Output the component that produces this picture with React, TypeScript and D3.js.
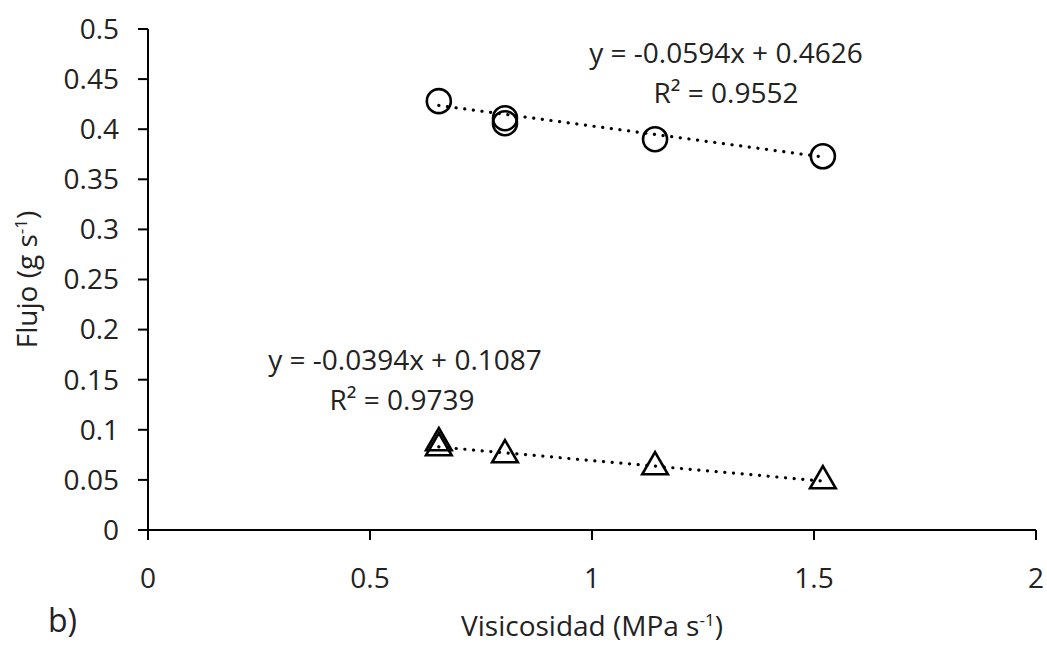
import React from "react";
import * as d3 from "d3";

const circleX = [0.655, 0.804, 0.804, 1.142, 1.52];
const circleY = [0.428, 0.411, 0.406, 0.390, 0.373];
const triX = [0.655, 0.655, 0.804, 1.142, 1.52];
const triY = [0.087, 0.082, 0.075, 0.063, 0.049];
const trend1 = { slope: -0.0594, intercept: 0.4626, eq: "y = -0.0594x + 0.4626", r2: "R² = 0.9552" };
const trend2 = { slope: -0.0394, intercept: 0.1087, eq: "y = -0.0394x + 0.1087", r2: "R² = 0.9739" };
const xTicks = [0, 0.5, 1, 1.5, 2];
const yTicks = [0, 0.05, 0.1, 0.15, 0.2, 0.25, 0.3, 0.35, 0.4, 0.45, 0.5];

const W = 1047, H = 646;
const FONT = "'Open Sans', sans-serif";

export default function App() {
  const x = d3.scaleLinear().domain([0, 2]).range([148, 1036]);
  const y = d3.scaleLinear().domain([0, 0.5]).range([530, 29]);
  const fs = 28;
  const tri = d3.symbol().type(d3.symbolTriangle).size(285);

  const trendLine = (t: typeof trend1, xs: number[]) => {
    const x0 = d3.min(xs)!, x1 = d3.max(xs)!;
    const line = d3.line<number>().x((v) => x(v)).y((v) => y(t.slope * v + t.intercept));
    return (
      <path d={line([x0, x1]) || ""} fill="none" stroke="#000" strokeWidth={3.2}
        strokeDasharray="0.1 8.6" strokeLinecap="round" />
    );
  };

  return (
    <svg width={W} height={H} style={{ position: "absolute", left: 0, top: 0, background: "#fff" }}
      fontFamily={FONT}>
      <rect width={W} height={H} fill="#fff" />
      <line x1={x(0)} x2={x(0)} y1={y(0.5)} y2={y(0)} stroke="#000" strokeWidth={2} />
      <line x1={x(0)} x2={x(2)} y1={y(0)} y2={y(0)} stroke="#000" strokeWidth={2} />
      {yTicks.map((t) => (
        <g key={"y" + t}>
          <line x1={x(0) - 10} x2={x(0)} y1={y(t)} y2={y(t)} stroke="#000" strokeWidth={2} />
          <text x={x(0) - 29} y={y(t)} dy="0.35em" textAnchor="end" fontSize={fs} fill="#222">{String(t)}</text>
        </g>
      ))}
      {xTicks.map((t) => (
        <g key={"x" + t}>
          <line x1={x(t)} x2={x(t)} y1={y(0)} y2={y(0) + 10} stroke="#000" strokeWidth={2} />
          <text x={x(t)} y={578} dy="0.35em" textAnchor="middle" fontSize={fs} fill="#222">{String(t)}</text>
        </g>
      ))}
      {trendLine(trend1, circleX)}
      {trendLine(trend2, triX)}
      {circleX.map((v, i) => (
        <circle key={"c" + i} cx={x(v)} cy={y(circleY[i])} r={12} fill="none" stroke="#000" strokeWidth={2.6} />
      ))}
      {triX.map((v, i) => (
        <path key={"t" + i} d={tri() || ""} transform={`translate(${x(v)},${y(triY[i])})`} fill="none" stroke="#000" strokeWidth={2.6} />
      ))}
      <text x={726} y={53} dy="0.35em" textAnchor="middle" fontSize={fs} fill="#222">{trend1.eq}</text>
      <text x={726} y={93} dy="0.35em" textAnchor="middle" fontSize={fs} fill="#222">{trend1.r2}</text>
      <text x={405} y={360} dy="0.35em" textAnchor="middle" fontSize={fs} fill="#222">{trend2.eq}</text>
      <text x={402} y={400} dy="0.35em" textAnchor="middle" fontSize={fs} fill="#222">{trend2.r2}</text>
      <text transform={`translate(27,${y(0.25)}) rotate(-90)`} dy="0.35em" textAnchor="middle" fontSize={fs} fill="#222">
        Flujo (g s<tspan dy="-10" fontSize={17}>-1</tspan><tspan dy="10">)</tspan>
      </text>
      <text x={592} y={626} dy="0.35em" textAnchor="middle" fontSize={fs} fill="#222">
        Visicosidad (MPa s<tspan dy="-10" fontSize={17}>-1</tspan><tspan dy="10">)</tspan>
      </text>
      <text x={48} y={621} dy="0.35em" fontSize={32} fill="#222">b)</text>
    </svg>
  );
}
